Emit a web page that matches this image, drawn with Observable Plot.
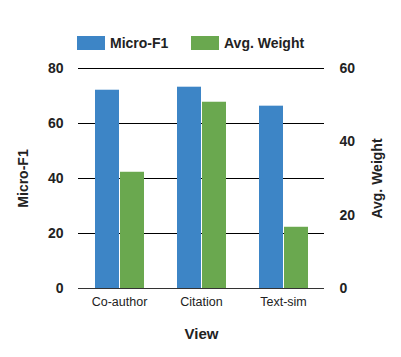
<!DOCTYPE html>
<html>
<head>
<meta charset="utf-8">
<script src="https://cdn.jsdelivr.net/npm/d3@7"></script>
<script src="https://cdn.jsdelivr.net/npm/@observablehq/plot@0.6"></script>
<style>
  html, body { margin: 0; padding: 0; background: #fff; }
  body { width: 401px; height: 357px; overflow: hidden; font-family: "Liberation Sans", Arial, sans-serif; color: #222; }
  #legend { position: relative; height: 58px; }
  .sw { position: absolute; top: 36px; width: 28px; height: 14px; }
  .lt { position: absolute; top: 35px; font-size: 14px; font-weight: bold; line-height: 16px; white-space: nowrap; }
  #chart svg g[aria-label$="axis label"] text { font-weight: bold; }
  #chart svg g[aria-label="fx-axis label"] text { font-size: 15px; }
</style>
</head>
<body>
<div id="legend"></div>
<div id="chart"></div>
<script>
// ---- data ----
const categories = ["Co-author", "Citation", "Text-sim"];
const seriesNames = ["Micro-F1", "Avg. Weight"];
const microF1 = [72.1, 73.2, 66.3];
const avgWeight = [31.7, 50.8, 16.7];
const leftTicks = [0, 20, 40, 60, 80];
const rightTicks = [0, 20, 40, 60];
const colors = ["#3d85c6", "#6aa84f"];

const leftMax = 80, rightMax = 60;
const k = leftMax / rightMax; // map right-axis values into the left scale

const data = categories.flatMap((c, i) => [
  {view: c, series: seriesNames[0], value: microF1[i]},
  {view: c, series: seriesNames[1], value: avgWeight[i] * k}
]);

// ---- legend ----
const legend = document.getElementById("legend");
const legendPos = [[77, 110], [191, 224]];
seriesNames.forEach((s, i) => {
  const sw = document.createElement("div");
  sw.className = "sw";
  sw.style.left = legendPos[i][0] + "px";
  sw.style.background = colors[i];
  const t = document.createElement("div");
  t.className = "lt";
  t.style.left = legendPos[i][1] + "px";
  t.textContent = s;
  legend.append(sw, t);
});

// ---- chart ----
const chart = Plot.plot({
  width: 401,
  height: 299,
  marginLeft: 77,
  marginRight: 76,
  marginTop: 10,
  marginBottom: 69,
  style: {fontFamily: "Liberation Sans, Arial, sans-serif", color: "#222", background: "#fff", overflow: "visible"},
  fx: {domain: categories, padding: 0},
  x: {domain: seriesNames, paddingInner: 0.04, paddingOuter: 0.61, axis: null},
  y: {domain: [0, leftMax]},
  color: {domain: seriesNames, range: colors},
  marks: [
    Plot.ruleY(leftTicks.filter(d => d > 0), {stroke: "#000", strokeWidth: 1}),
    Plot.barY(data, {fx: "view", x: "series", y: "value", fill: "series"}),
    Plot.ruleY([0], {stroke: "#333", strokeWidth: 1}),
    Plot.axisY(leftTicks, {anchor: "left", tickSize: 0, tickPadding: 15, fontSize: 14, fontWeight: "bold",
      label: "Micro-F1", labelArrow: "none", labelAnchor: "center", labelOffset: 60}),
    Plot.axisY(rightTicks.map(d => d * k), {anchor: "right", tickSize: 0, tickPadding: 15, fontSize: 14, fontWeight: "bold",
      tickFormat: d => String(Math.round(d / k)),
      label: "Avg. Weight", labelArrow: "none", labelAnchor: "center", labelOffset: 57}),
    Plot.axisFx({anchor: "bottom", tickSize: 0, tickPadding: 9, fontSize: 12.5,
      label: "View", labelArrow: "none", labelAnchor: "center", labelOffset: 50})
  ]
});
document.getElementById("chart").append(chart);
</script>
</body>
</html>
